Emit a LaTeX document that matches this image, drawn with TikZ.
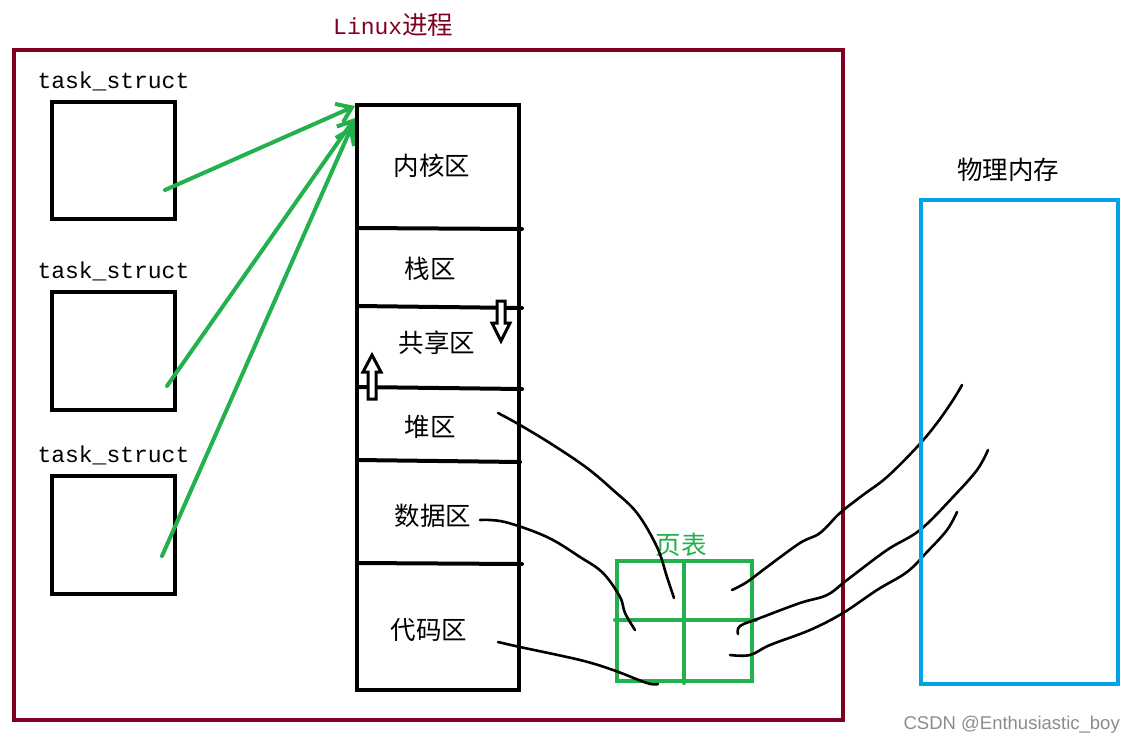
\documentclass[tikz,border=0pt]{standalone}
\usepackage{fontspec}
\setmainfont{Liberation Mono}
\newfontfamily\cjk{Noto Sans CJK SC}
\newfontfamily\wm{Liberation Sans}
\usetikzlibrary{arrows.meta}
\definecolor{maroon}{RGB}{128,0,32}
\definecolor{pgreen}{RGB}{34,177,76}
\definecolor{pblue}{RGB}{0,162,232}
\tikzset{
  frame/.style={draw=maroon,line width=4pt},
  tbox/.style={draw=black,line width=4pt},
  garrow/.style={draw=pgreen,line width=4pt,line cap=round,-{Straight Barb[length=14pt,width=20pt,line width=4pt]}},
  divider/.style={draw=black,line width=4pt,line cap=round},
  zh/.style={font=\cjk\fontsize{25.5}{25.5}\selectfont},
  mono/.style={font=\fontsize{23}{23}\selectfont},
  hand/.style={draw=black,line width=2.6pt,line cap=round,line join=round},
  hollow/.style={draw=black,line width=3pt,line join=miter,fill=white},
}
\begin{document}
\begin{tikzpicture}[x=1pt,y=-1pt]
\useasboundingbox[fill=white] (0,0) rectangle (1135,745);
% main frame
\draw[frame] (14,50) rectangle (843,720);
\node[text=maroon,font=\fontsize{23}{23}\selectfont,anchor=west,inner sep=0pt] (title) at (333,25) {Linux{\cjk\fontsize{25.5}{25.5}\selectfont 进程}};
% task_struct boxes
\node[mono,anchor=west] (l1) at (34,81) {task\_struct};
\node[mono,anchor=west] (l2) at (34,271) {task\_struct};
\node[mono,anchor=west] (l3) at (34,455) {task\_struct};
\draw[tbox] (52,102) rectangle (175,219);
\draw[tbox] (52,292) rectangle (175,410);
\draw[tbox] (52,476) rectangle (175,594);
\coordinate (t1) at (165,190);
\coordinate (t2) at (167,386);
\coordinate (t3) at (162,556);
\coordinate (h1) at (355,106);
\coordinate (h2) at (355,118);
\coordinate (h3) at (352,126);
\draw[garrow] (t1) -- (h1);
\draw[garrow] (t2) -- (h2);
\draw[garrow] (t3) -- (h3);
% memory column
\draw[tbox] (357,105) rectangle (519,690);
\draw[divider] (357,228) -- (522,229);
\draw[divider] (357,306) -- (522,308);
\draw[divider] (357,387) -- (522,389);
\draw[divider] (357,460) -- (520,462);
\draw[divider] (357,563) -- (522,564);
\node[zh] (k) at (432,166) {内核区};
\node[zh] (s) at (430,269) {栈区};
\node[zh] (sh) at (437,343) {共享区};
\node[zh] (hp) at (430,427) {堆区};
\node[zh] (d) at (433,516) {数据区};
\node[zh] (c) at (429,630) {代码区};
% hollow arrows
\draw[hollow] (497,301) -- (505,301) -- (505,323) -- (510,323) -- (501,341) -- (492,323) -- (497,323) -- cycle;
\draw[hollow] (368,399) -- (376,399) -- (376,372) -- (381,372) -- (372,355) -- (363,372) -- (368,372) -- cycle;
% page table
\node[zh,text=pgreen] (pt) at (681,545) {页表};
\draw[draw=pgreen,line width=4pt] (617,561) rectangle (752,681);
\draw[draw=pgreen,line width=4pt,line cap=round] (615,620) -- (756,620);
\draw[draw=pgreen,line width=4pt,line cap=round] (684,561) -- (684,683);
% hand-drawn links to page table
\draw[hand] plot[smooth,tension=0.6] coordinates {(498,413) (520,425) (553,445) (587,468) (613,490) (637,513) (657,547) (667,577) (674,598)};
\draw[hand] plot[smooth,tension=0.6] coordinates {(480,520) (505,522) (547,537) (580,557) (603,573) (620,597) (625,613) (635,630)};
\draw[hand] plot[smooth,tension=0.6] coordinates {(498,642) (520,647) (580,660) (613,670) (647,683) (658,684)};
% hand-drawn links to physical memory
\draw[hand] plot[smooth,tension=0.6] coordinates {(732,590) (747,582) (767,567) (800,543) (820,533) (840,513) (863,495) (887,477) (917,447) (937,423) (953,400) (962,385)};
\draw[hand] plot[smooth,tension=0.6] coordinates {(738,634) (740,626) (760,618) (800,603) (827,595) (847,580) (887,550) (920,530) (953,497) (977,470) (988,450)};
\draw[hand] plot[smooth,tension=0.6] coordinates {(730,655) (750,655) (770,645) (810,630) (843,613) (877,590) (907,572) (927,552) (947,530) (957,512)};
% physical memory
\node[zh] (pm) at (1008,170) {物理内存};
\draw[draw=pblue,line width=4pt] (921,200) rectangle (1118,684);
% watermark
\node[font=\wm\fontsize{18.5}{18.5}\selectfont,text=black!45,anchor=east,inner sep=0pt] (wmk) at (1120,725) {CSDN @Enthusiastic\_boy};
\end{tikzpicture}
\end{document}
